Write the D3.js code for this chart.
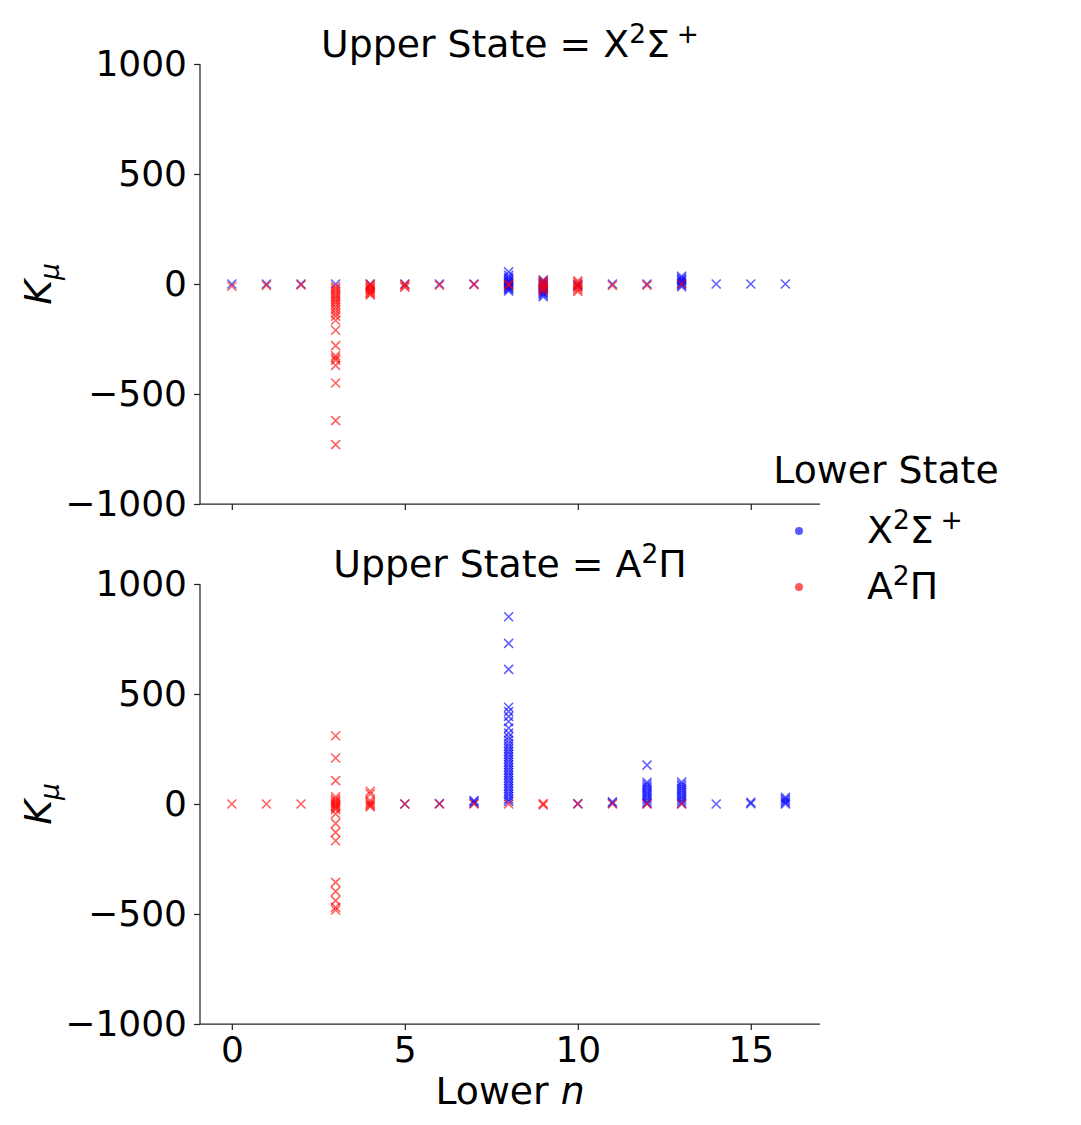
<!DOCTYPE html>
<html><head><meta charset="utf-8">
<script src="https://cdn.jsdelivr.net/npm/d3@7"></script>
<style>body{margin:0;background:#fff}svg{display:block}text{font-family:"DejaVu Sans",sans-serif;fill:#000}</style>
</head><body><svg id="c" width="1081" height="1125"></svg>
<script>
// ---- data ----
const lowerN = [0,1,2,3,4,5,6,7,8,9,10,11,12,13,14,15,16];
const xTicks = [0,5,10,15];
const yTicks = [-1000,-500,0,500,1000];
const panelTitles = ["X²Σ⁺","A²Π"];
const legendLabels = ["X²Σ⁺","A²Π"];
// Upper X2Sigma+, Lower X2Sigma+  : [n, K]
const upXlowX = [[0,0],[1,0],[2,0],[3,0],[4,0],[5,0],[6,0],[7,0],
 [8,55],[8,40],[8,30],[8,22],[8,15],[8,10],[8,5],[8,0],[8,-5],[8,-10],[8,-15],[8,-20],[8,-25],[8,-32],
 [9,18],[9,10],[9,4],[9,-2],[9,-8],[9,-14],[9,-20],[9,-26],[9,-32],[9,-38],[9,-44],[9,-50],[9,-58],
 [10,-3],[10,-10],[11,0],[12,0],
 [13,35],[13,27],[13,20],[13,14],[13,8],[13,2],[13,-5],[13,-12],
 [14,0],[15,0],[16,0]];
// Upper X2Sigma+, Lower A2Pi
const upXlowA = [[0,-10],[1,-6],[2,-4],
 [3,-12],[3,-22],[3,-32],[3,-42],[3,-52],[3,-62],[3,-72],[3,-82],[3,-92],[3,-105],[3,-118],[3,-132],[3,-146],[3,-165],[3,-210],[3,-280],[3,-326],[3,-336],[3,-346],[3,-370],[3,-450],[3,-621],[3,-730],
 [4,-2],[4,-8],[4,-14],[4,-20],[4,-26],[4,-32],[4,-38],[4,-44],[4,-50],
 [5,-3],[5,-9],[5,-15],[6,-5],[7,-3],[8,0],[8,-6],
 [9,16],[9,8],[9,0],[9,-8],[9,-16],[9,-24],[9,-32],
 [10,14],[10,6],[10,-2],[10,-10],[10,-18],[10,-26],[10,-34],
 [11,-6],[12,-5],[13,0]];
// Upper A2Pi, Lower X2Sigma+
const upAlowX = [[5,0],[6,2],[7,4],[7,10],[7,16],
 [8,851],[8,730],[8,612],[8,440],[8,420],[8,398],[8,375],[8,345],[8,322],[8,305],[8,290],[8,275],[8,262],[8,250],[8,238],[8,226],[8,214],[8,202],[8,190],[8,178],[8,166],[8,154],[8,142],[8,130],[8,118],[8,106],[8,94],[8,82],[8,70],[8,58],[8,46],[8,34],[8,22],[8,12],
 [10,2],[11,4],[11,10],
 [12,177],[12,98],[12,88],[12,78],[12,68],[12,58],[12,48],[12,38],[12,28],[12,18],[12,8],[12,2],
 [13,100],[13,90],[13,80],[13,70],[13,60],[13,50],[13,40],[13,30],[13,20],[13,10],[13,2],
 [14,0],[15,2],[15,8],[16,30],[16,22],[16,14],[16,6],[16,0]];
// Upper A2Pi, Lower A2Pi
const upAlowA = [[0,0],[1,0],[2,0],
 [3,310],[3,209],[3,106],[3,33],[3,22],[3,14],[3,7],[3,0],[3,-6],[3,-12],[3,-18],[3,-26],[3,-45],[3,-88],[3,-129],[3,-167],[3,-356],[3,-397],[3,-439],[3,-470],[3,-482],
 [4,58],[4,46],[4,16],[4,6],[4,0],[4,-6],[4,-12],
 [5,0],[6,0],[7,0],[8,0],[9,-4],[9,2],[10,0],[11,0],[12,0],[13,0]];
const panels = [
  {title: panelTitles[0], series: [upXlowX, upXlowA]},
  {title: panelTitles[1], series: [upAlowX, upAlowA]}
];
const colors = ["#0000ff","#ff0000"];

// ---- layout ----
const svg = d3.select("#c");
const L = 200, R = 820;
const panelTop = [64, 584], panelH = 440;
const x = d3.scaleLinear().domain([-0.92, 17.0]).range([L, R]);
const fs = 36, fsT = 37.8;

function supText(sel, base, f){
  const parts = base === "X²Σ⁺" ? [["X",0],["2",1],["Σ",0],["+",1]] : [["A",0],["2",1],["Π",0]];
  let prev = 0;
  parts.forEach(([t,s])=>{
    const ts = sel.append("tspan").text(t);
    if(s){
      ts.attr("font-size", f*0.7).attr("dy", -f*0.38);
      if(t==="+") ts.attr("dx", f*0.18);
    } else {
      ts.attr("dy", prev ? f*0.38 : 0);
    }
    prev = s;
  });
}

panels.forEach((p,i)=>{
  const top = panelTop[i];
  const y = d3.scaleLinear().domain([-1000,1000]).range([top+panelH, top]);
  const g = svg.append("g");
  const ya = g.append("g").attr("transform",`translate(${L},0)`)
    .call(d3.axisLeft(y).tickValues(yTicks).tickSize(6).tickPadding(7).tickFormat(d=>d<0?"−"+Math.abs(d):d));
  const xa = g.append("g").attr("transform",`translate(0,${top+panelH})`)
    .call(d3.axisBottom(x).tickValues(xTicks).tickSize(6).tickPadding(6.5).tickFormat(i===1?(d=>d):(()=>"")));
  [ya,xa].forEach(a=>{
    a.select(".domain").attr("stroke","#262626").attr("stroke-width",1.25);
    a.selectAll(".tick line").attr("stroke","#262626").attr("stroke-width",1.25);
    a.selectAll(".tick text").attr("font-size",fs).attr("font-family","DejaVu Sans").attr("fill","#000");
  });
  ya.select(".domain").attr("d",`M0,${top+panelH}V${top}`);
  xa.select(".domain").attr("d",`M${L},0H${R}`);
  const t = g.append("text").attr("x",510).attr("y",top-7).attr("text-anchor","middle").attr("font-size",fsT);
  t.append("tspan").text("Upper State = ");
  supText(t, p.title, fsT);
  const yl = g.append("text").attr("transform",`translate(51,${top+panelH/2}) rotate(-90)`).attr("text-anchor","middle").attr("font-size",fsT);
  yl.append("tspan").text("K").attr("font-style","italic");
  yl.append("tspan").text("μ").attr("font-style","italic").attr("font-size",fsT*0.7).attr("dy",fsT*0.2);
  const sz = 4.5;
  p.series.forEach((s,k)=>{
    g.append("g").selectAll("path").data(s).join("path")
      .attr("d",d=>{const cx=x(d[0]), cy=y(d[1]); return `M${cx-sz},${cy-sz}L${cx+sz},${cy+sz}M${cx-sz},${cy+sz}L${cx+sz},${cy-sz}`;})
      .attr("stroke",colors[k]).attr("stroke-width",1.6).attr("fill","none").attr("opacity",0.62);
  });
});

const xl = svg.append("text").attr("x",510).attr("y",1103.5).attr("text-anchor","middle").attr("font-size",fsT);
xl.append("tspan").text("Lower ");
xl.append("tspan").text("n").attr("font-style","italic");

svg.append("text").attr("x",886).attr("y",483).attr("text-anchor","middle").attr("font-size",fsT).text("Lower State");
[531,587].forEach((cy,k)=>{
  svg.append("circle").attr("cx",799).attr("cy",cy).attr("r",4).attr("fill",colors[k]).attr("opacity",0.65);
  const lt = svg.append("text").attr("x",867).attr("y",cy+12).attr("font-size",fsT);
  supText(lt, legendLabels[k], fsT);
});
</script></body></html>
